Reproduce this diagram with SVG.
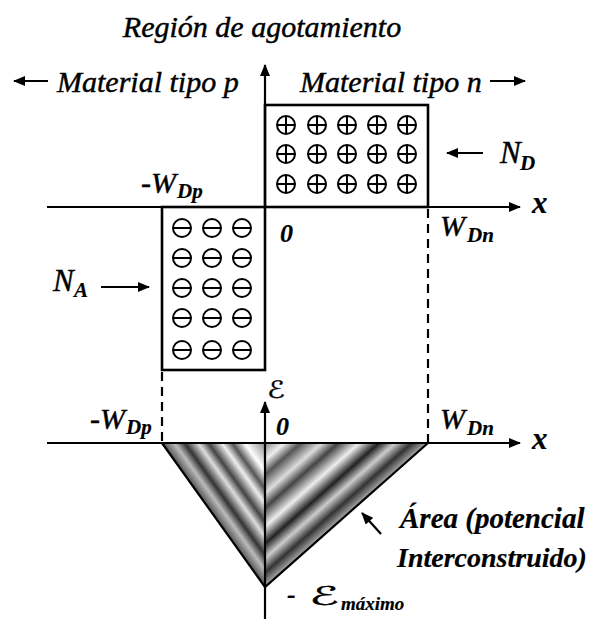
<svg xmlns="http://www.w3.org/2000/svg" xmlns:xlink="http://www.w3.org/1999/xlink" width="590" height="619" viewBox="0 0 590 619">
<style>
.t{font-family:"Liberation Serif","Times New Roman","DejaVu Serif",serif;font-style:italic;fill:#000;stroke:#000;stroke-width:0.45}
.b{font-weight:bold;stroke-width:0.2}
.ln{stroke:#000;stroke-width:2.2;fill:none}
.box{stroke:#000;stroke-width:2.6;fill:#fff}
.dash{stroke:#000;stroke-width:2.2;stroke-dasharray:9 6;fill:none}
.sym{stroke:#000;stroke-width:2;fill:none}
.scr{font-family:"DejaVu Serif","DejaVu Sans",serif;font-style:italic;fill:#000;stroke:#000;stroke-width:0.3}
</style>
<defs>
<marker id="ah" viewBox="0 0 12 10" refX="11" refY="5" markerWidth="13" markerHeight="10" markerUnits="userSpaceOnUse" orient="auto">
<path d="M0,0 L12,5 L0,10 z" fill="#000"/>
</marker>
<g id="plus"><circle r="9" class="sym"/><path d="M-9,0 H9 M0,-9 V9" class="sym"/></g>
<g id="minus"><circle r="9" class="sym"/><path d="M-9,0 H9" class="sym"/></g>
<linearGradient id="gL" gradientUnits="userSpaceOnUse" x1="196.9" y1="491.7" x2="265" y2="443">
<stop offset="0" stop-color="#555"/>
<stop offset="0.12" stop-color="#bbb"/>
<stop offset="0.22" stop-color="#333"/>
<stop offset="0.35" stop-color="#ddd"/>
<stop offset="0.45" stop-color="#444"/>
<stop offset="0.58" stop-color="#eee"/>
<stop offset="0.68" stop-color="#555"/>
<stop offset="0.8" stop-color="#fff"/>
<stop offset="1" stop-color="#888"/>
</linearGradient>
<linearGradient id="gR" gradientUnits="userSpaceOnUse" x1="336.4" y1="523.9" x2="265" y2="443">
<stop offset="0" stop-color="#aaa"/>
<stop offset="0.1" stop-color="#333"/>
<stop offset="0.2" stop-color="#ccc"/>
<stop offset="0.3" stop-color="#222"/>
<stop offset="0.42" stop-color="#eee"/>
<stop offset="0.55" stop-color="#444"/>
<stop offset="0.65" stop-color="#ddd"/>
<stop offset="0.78" stop-color="#555"/>
<stop offset="0.88" stop-color="#eee"/>
<stop offset="1" stop-color="#888"/>
</linearGradient>
</defs>
<rect width="590" height="619" fill="#fff"/>

<g id="title"><text class="t" x="262" y="37" font-size="30" text-anchor="middle">Región de agotamiento</text></g>
<g id="material-p"><text class="t" x="57" y="92" font-size="30">Material tipo p</text></g>
<g id="material-n"><text class="t" x="300" y="92" font-size="30">Material tipo n</text></g>

<g id="n-region">
<rect class="box" x="265" y="105" width="163" height="102"/>
<use xlink:href="#plus" x="286" y="125"/><use xlink:href="#plus" x="317" y="125"/><use xlink:href="#plus" x="347" y="125"/><use xlink:href="#plus" x="377" y="125"/><use xlink:href="#plus" x="407" y="125"/>
<use xlink:href="#plus" x="286" y="154"/><use xlink:href="#plus" x="317" y="154"/><use xlink:href="#plus" x="347" y="154"/><use xlink:href="#plus" x="377" y="154"/><use xlink:href="#plus" x="407" y="154"/>
<use xlink:href="#plus" x="286" y="184"/><use xlink:href="#plus" x="317" y="184"/><use xlink:href="#plus" x="347" y="184"/><use xlink:href="#plus" x="377" y="184"/><use xlink:href="#plus" x="407" y="184"/>
</g>

<g id="p-region">
<rect class="box" x="162" y="207" width="103" height="163"/>
<use xlink:href="#minus" x="182" y="228"/><use xlink:href="#minus" x="212" y="228"/><use xlink:href="#minus" x="242" y="228"/>
<use xlink:href="#minus" x="182" y="258"/><use xlink:href="#minus" x="212" y="258"/><use xlink:href="#minus" x="242" y="258"/>
<use xlink:href="#minus" x="182" y="288"/><use xlink:href="#minus" x="212" y="288"/><use xlink:href="#minus" x="242" y="288"/>
<use xlink:href="#minus" x="182" y="318"/><use xlink:href="#minus" x="212" y="318"/><use xlink:href="#minus" x="242" y="318"/>
<use xlink:href="#minus" x="182" y="350"/><use xlink:href="#minus" x="212" y="350"/><use xlink:href="#minus" x="242" y="350"/>
</g>

<g id="field-area">
<path d="M162,443 L265,443 L265,587 Z" fill="url(#gL)"/>
<path d="M265,443 L428,443 L265,587 Z" fill="url(#gR)"/>
<path d="M162,443 L265,587 L428,443" class="ln" stroke-width="2.6"/>
</g>

<g id="labels">
<text class="t" x="53" y="291" font-size="31">N<tspan class="b" x="74" y="297" font-size="21">A</tspan></text>
<text class="t" x="500" y="163" font-size="31">N<tspan class="b" x="520" y="170" font-size="21">D</tspan></text>
<text class="t" x="141" y="193" font-size="30">-W<tspan class="b" x="177" y="198" font-size="21">Dp</tspan></text>
<text class="t" x="440" y="236" font-size="30">W<tspan class="b" x="467" y="242" font-size="21">Dn</tspan></text>
<text class="t" x="90" y="429" font-size="30">-W<tspan class="b" x="126" y="434" font-size="21">Dp</tspan></text>
<text class="t" x="440" y="429" font-size="30">W<tspan class="b" x="467" y="435" font-size="21">Dn</tspan></text>
<text class="t b" x="280" y="242" font-size="26">0</text>
<text class="t b" x="276" y="435" font-size="26">0</text>
<text class="t b" x="532" y="213" font-size="31">x</text>
<text class="t b" x="532" y="449" font-size="31">x</text>
<text class="scr" x="267" y="398" font-size="24" textLength="18" lengthAdjust="spacingAndGlyphs">ℰ</text>
<text class="t b" x="287" y="603" font-size="26">-</text>
<text class="scr" x="309" y="605" font-size="26" textLength="30" lengthAdjust="spacingAndGlyphs">ℰ</text>
<text class="t b" x="341" y="610" font-size="19">máximo</text>
<text class="t b" x="400" y="528" font-size="29">Área (potencial</text>
<text class="t b" x="397" y="567" font-size="28">Interconstruido)</text>
</g>

<g id="connectors">
<line class="ln" x1="265" y1="207" x2="265" y2="65" marker-end="url(#ah)"/>
<line class="ln" x1="47" y1="207" x2="520" y2="207" marker-end="url(#ah)"/>
<line class="ln" x1="47" y1="443" x2="520" y2="443" marker-end="url(#ah)"/>
<line class="ln" x1="265" y1="619" x2="265" y2="402" marker-end="url(#ah)"/>
<line class="dash" x1="162" y1="372" x2="162" y2="443"/>
<line class="dash" x1="428" y1="209" x2="428" y2="443"/>
<line class="ln" x1="48" y1="81" x2="14" y2="81" marker-end="url(#ah)"/>
<line class="ln" x1="490" y1="81" x2="525" y2="81" marker-end="url(#ah)"/>
<line class="ln" x1="101" y1="287" x2="149" y2="287" marker-end="url(#ah)"/>
<line class="ln" x1="483" y1="153" x2="447" y2="153" marker-end="url(#ah)"/>
<line class="ln" x1="381" y1="534" x2="362" y2="513" marker-end="url(#ah)"/>
</g>
</svg>
